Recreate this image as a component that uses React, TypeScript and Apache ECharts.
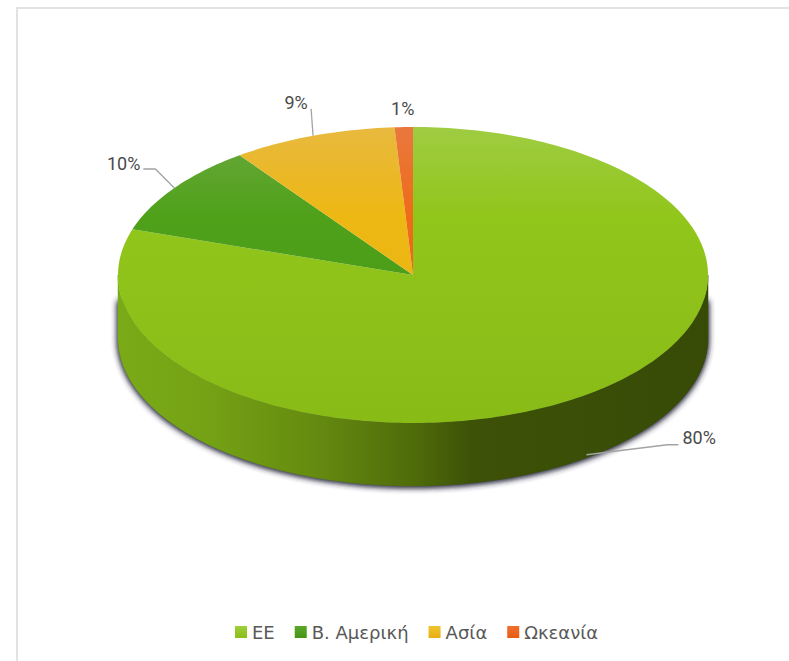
import React, { useEffect, useRef } from "react";
import * as echarts from "echarts";

const categories = ["ΕΕ", "Β. Αμερική", "Ασία", "Ωκεανία"];
const shares = [80, 10, 9, 1];

const topStops = [
  ["#9fcc42", "#91c61b", "#89bb17"],
  ["#6ba83e", "#4fa11a", "#459414"],
  ["#e8b93e", "#edb814", "#e8ae10"],
  ["#e9783e", "#ee6c18", "#e85c10"],
];
const legendStops = [
  ["#9fcf3a", "#8cbd18"],
  ["#5aa82a", "#459414"],
  ["#efc430", "#e8ae10"],
  ["#f07030", "#e85a10"],
];

const W = 789;
const H = 661;
const CX = 413;
const CY = 275;
const RX = 295;
const RY = 148;
const DEPTH = 63;
const total = shares.reduce((a, b) => a + b, 0);

// leader offsets relative to each slice's mid-angle point on the rim
const leaders: number[][][] = [
  [[0, 0], [81, -10], [92, -10]],
  [[0, 0], [-19, -19], [-31, -19]],
  [[0, 0], [-2, -27]],
  [],
];
const labelOffsets: { dx: number; dy: number; align: string }[] = [
  { dx: 96, dy: -17, align: "left" },
  { dx: -34, dy: -25, align: "right" },
  { dx: -17, dy: -33, align: "center" },
  { dx: -1, dy: -19, align: "center" },
];

const pt = (a: number, yOff = 0) => [
  CX + RX * Math.sin(a),
  CY - RY * Math.cos(a) + yOff,
];

function arcPoints(a0: number, a1: number, yOff = 0) {
  const steps = Math.max(2, Math.ceil(Math.abs(a1 - a0) / 0.02));
  const out: number[][] = [];
  for (let i = 0; i <= steps; i++) out.push(pt(a0 + ((a1 - a0) * i) / steps, yOff));
  return out;
}

const gradTop = (c: string[]) => ({
  type: "linear", x: 0, y: CY - RY, x2: 0, y2: CY + RY, global: true,
  colorStops: [
    { offset: 0, color: c[0] },
    { offset: 0.3, color: c[1] },
    { offset: 1, color: c[2] },
  ],
});

const sideGrad = () => ({
  type: "linear", x: CX - RX, y: 0, x2: CX + RX, y2: 0, global: true,
  colorStops: [
    { offset: 0, color: "#7aaa17" },
    { offset: 0.15, color: "#74a215" },
    { offset: 0.33, color: "#668b10" },
    { offset: 0.5, color: "#4f6c0a" },
    { offset: 0.6, color: "#3d5207" },
    { offset: 1, color: "#374b07" },
  ],
});

function makeRenderItem(idx: number) {
  return () => {
    const before = shares.slice(0, idx).reduce((a, b) => a + b, 0);
    const a0 = (before / total) * Math.PI * 2;
    const a1 = ((before + shares[idx]) / total) * Math.PI * 2;
    const mid = (a0 + a1) / 2;
    const children: any[] = [];

    // side wall: only the part of the slice on the front half of the disc
    const s0 = Math.max(a0, Math.PI / 2);
    const s1 = Math.min(a1, (Math.PI * 3) / 2);
    if (s1 > s0) {
      const caster = [
        [CX + RX, CY + 25],
        ...arcPoints(s0, s1, DEPTH),
        [CX - RX, CY + 25],
      ];
      for (let k = 0; k < 2; k++) {
        children.push({
          type: "polygon",
          shape: { points: caster },
          style: {
            fill: "#44445a",
            shadowBlur: 6,
            shadowColor: "rgba(50,50,70,1)",
            shadowOffsetY: 1,
          },
          z2: 0,
        });
      }
      const wall = [...arcPoints(s0, s1), ...arcPoints(s1, s0, DEPTH)];
      children.push({
        type: "polygon",
        shape: { points: wall },
        style: { fill: sideGrad(), stroke: sideGrad(), lineWidth: 0.5 },
        z2: 1,
      });
    }

    children.push({
      type: "polygon",
      shape: { points: [[CX, CY], ...arcPoints(a0, a1)] },
      style: { fill: gradTop(topStops[idx]) },
      z2: 2,
    });

    const frontMid = mid > Math.PI / 2 && mid < (Math.PI * 3) / 2;
    const anchor = pt(mid, frontMid ? DEPTH - 3 : 0);
    if (leaders[idx].length) {
      children.push({
        type: "polyline",
        shape: { points: leaders[idx].map(([dx, dy]) => [anchor[0] + dx, anchor[1] + dy]) },
        style: { stroke: "#a3a3a3", lineWidth: 1.3, fill: "none" },
        z2: 3,
      });
    }
    const lo = labelOffsets[idx];
    children.push({
      type: "text",
      x: anchor[0] + lo.dx,
      y: anchor[1] + lo.dy,
      style: {
        text: `${shares[idx]}%`,
        font: '18px "Roboto"',
        fill: "#4a4a4a",
        textAlign: lo.align,
        textVerticalAlign: "middle",
      },
      z2: 4,
    });
    return { type: "group", children };
  };
}

export default function App() {
  const ref = useRef<HTMLDivElement>(null);
  useEffect(() => {
    const chart = echarts.init(ref.current!, undefined, { renderer: "svg" });
    chart.setOption({
      animation: false,
      backgroundColor: "#ffffff",
      graphic: [
        { type: "rect", shape: { x: 16, y: 7, width: W - 16, height: 2 }, style: { fill: "#e2e2e2" }, silent: true },
        { type: "rect", shape: { x: 16, y: 7, width: 2, height: H - 7 }, style: { fill: "#e2e2e2" }, silent: true },
      ],
      legend: {
        left: 235,
        top: 623,
        icon: "rect",
        itemWidth: 12,
        itemHeight: 12,
        itemGap: 20,
        padding: 0,
        selectedMode: false,
        data: categories,
        textStyle: { fontFamily: "DejaVu Sans", fontSize: 18, color: "#595959", padding: [0, 0, 0, 0] },
      },
      series: categories.map((name, i) => ({
        type: "custom",
        name,
        coordinateSystem: "none",
        silent: true,
        clip: false,
        data: [shares[i]],
        z: i === 0 ? 1 : 2,
        itemStyle: {
          color: {
            type: "linear", x: 0, y: 0, x2: 0, y2: 1,
            colorStops: [
              { offset: 0, color: legendStops[i][0] },
              { offset: 1, color: legendStops[i][1] },
            ],
          },
        },
        renderItem: makeRenderItem(i),
      })),
    });
    return () => chart.dispose();
  }, []);
  return <div ref={ref} style={{ position: "absolute", left: 0, top: 0, width: W, height: H }} />;
}
